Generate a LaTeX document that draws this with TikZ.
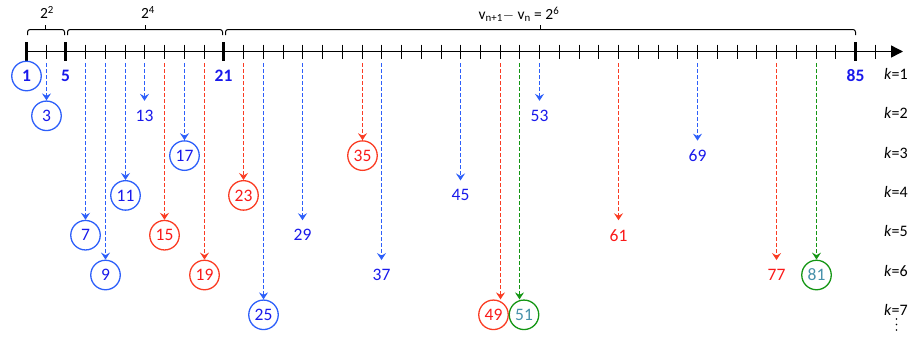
\documentclass[tikz,border=0pt]{standalone}
\usepackage{fontspec}
\setmainfont{Carlito}
\usetikzlibrary{arrows.meta}
\definecolor{btext}{RGB}{25,25,235}
\definecolor{bline}{RGB}{45,95,250}
\definecolor{rtext}{RGB}{250,25,25}
\definecolor{rline}{RGB}{250,60,35}
\definecolor{gline}{RGB}{20,150,20}
\definecolor{ttext}{RGB}{70,145,170}
\tikzset{
  numbase/.style={circle, minimum size=29.5pt, inner sep=0pt, font=\fontsize{17.5}{17.5}\selectfont},
  cblue/.style={numbase, draw=bline, line width=1.3pt, text=btext},
  pblue/.style={numbase, text=btext},
  cred/.style={numbase, draw=rline, line width=1.3pt, text=rtext},
  pred/.style={numbase, text=rtext},
  cgreen/.style={numbase, draw=gline, line width=1.3pt, text=ttext},
  bnum/.style={numbase, text=btext, font=\fontsize{17.5}{17.5}\selectfont\bfseries},
  darr/.style={dash pattern=on 4pt off 2pt, line width=1.6pt, -{Stealth[length=7pt,width=9pt,inset=2.5pt]}},
  klab/.style={anchor=west, inner sep=0pt, font=\fontsize{16}{16}\selectfont},
  toplab/.style={anchor=base, inner sep=0pt, font=\fontsize{15.5}{15.5}\selectfont},
  bracket/.style={line width=1pt, rounded corners=2.5pt},
  minortick/.style={line width=1pt},
  majortick/.style={line width=3.5pt},
  vdot/.style={circle, fill=black, inner sep=0pt, minimum size=1.8pt},
}
\begin{document}
\begin{tikzpicture}[x=1pt,y=-1pt]
\path[use as bounding box] (0,0) rectangle (909,341);
% axis coordinates (snapped to pixel centres)
\foreach \n in {1,3,...,87} \coordinate (t\n) at ({round(26+(\n-1)*9.87)+0.5},51.5);
\coordinate (axend) at (903,51.5);
\coordinate (ds) at (0,63);
% number rows
\foreach \k in {1,...,7} \coordinate (r\k) at (0,{76+(\k-1)*39.8});
% axis
\draw[line width=1.4pt, -{Triangle[length=12pt,width=12pt]}] (t1) -- (axend);
\foreach \n in {3,7,9,11,13,15,17,19,23,25,27,29,31,33,35,37,39,41,43,45,47,49,51,53,55,57,59,61,63,65,67,69,71,73,75,77,79,81,83,87}
  \draw[minortick] (t\n) ++(0,-7) -- ++(0,14);
\foreach \n in {1,5,21,85}
  \draw[majortick] (t\n) ++(0,-9.5) -- ++(0,19);
% brackets
\draw[bracket] (27.5,35) -- (27.5,29.5) -- (64.5,29.5) -- (64.5,35);
\draw[bracket] (67.5,35) -- (67.5,29.5) -- (222.5,29.5) -- (222.5,35);
\draw[bracket] (225.5,35) -- (225.5,29.5) -- (855.5,29.5) -- (855.5,35);
\draw[line width=1pt] (45.5,29.5) -- (45.5,24.5);
\draw[line width=1pt] (145.5,29.5) -- (145.5,24.5);
\draw[line width=1pt] (540.5,29.5) -- (540.5,24.5);
\node[toplab] (lab1) at (47,18.5) {2\textsuperscript{2}};
\node[toplab] (lab2) at (148,18.5) {2\textsuperscript{4}};
\node[toplab] (lab3) at (519,19.5) {v\textsubscript{n+1}$-$ v\textsubscript{n} = 2\textsuperscript{6}};
% k = 1 row
\node[bnum, draw=bline, line width=1.3pt] (n1) at (t1 |- r1) {1};
\node[bnum] (n5) at (t5 |- r1) {5};
\node[bnum] (n21) at (t21 |- r1) {21};
\node[bnum] (n85) at (t85 |- r1) {85};
% k = 2
\node[cblue] (n3) at (t3 |- r2) {3};
\node[pblue] (n13) at (t13 |- r2) {13};
\node[pblue] (n53) at (t53 |- r2) {53};
% k = 3
\node[cblue] (n17) at (t17 |- r3) {17};
\node[cred] (n35) at (t35 |- r3) {35};
\node[pblue] (n69) at (t69 |- r3) {69};
% k = 4
\node[cblue] (n11) at (t11 |- r4) {11};
\node[cred] (n23) at (t23 |- r4) {23};
\node[pblue] (n45) at (t45 |- r4) {45};
% k = 5
\node[cblue] (n7) at (t7 |- r5) {7};
\node[cred] (n15) at (t15 |- r5) {15};
\node[pblue] (n29) at (t29 |- r5) {29};
\node[pred] (n61) at (t61 |- r5) {61};
% k = 6
\node[cblue] (n9) at (t9 |- r6) {9};
\node[cred] (n19) at (t19 |- r6) {19};
\node[pblue] (n37) at (t37 |- r6) {37};
\node[pred] (n77) at (t77 |- r6) {77};
\node[cgreen] (n81) at (t81 |- r6) {81};
% k = 7
\node[cblue] (n25) at (t25 |- r7) {25};
\node[cred] (n49) at ([xshift=-7pt]t49 |- r7) {49};
\node[cgreen] (n51) at ([xshift=4.5pt]t51 |- r7) {51};
% arrows
\foreach \n/\c in {3/bline,13/bline,53/bline,17/bline,35/rline,69/bline,11/bline,23/rline,45/bline,7/bline,15/rline,29/bline,61/rline,9/bline,19/rline,37/bline,77/rline,81/gline,25/bline,49/rline,51/gline}
  \draw[darr, \c] (t\n |- ds) -- (t\n |- n\n.north);
% k labels
\foreach \k in {1,...,7}
  \node[klab] (k\k) at (884,{74+(\k-1)*39.3}) {\textit{k}=\k};
\node[vdot] (d1) at (896.5,319) {};
\node[vdot] (d2) at (896.5,324.5) {};
\node[vdot] (d3) at (896.5,330) {};
\end{tikzpicture}
\end{document}
